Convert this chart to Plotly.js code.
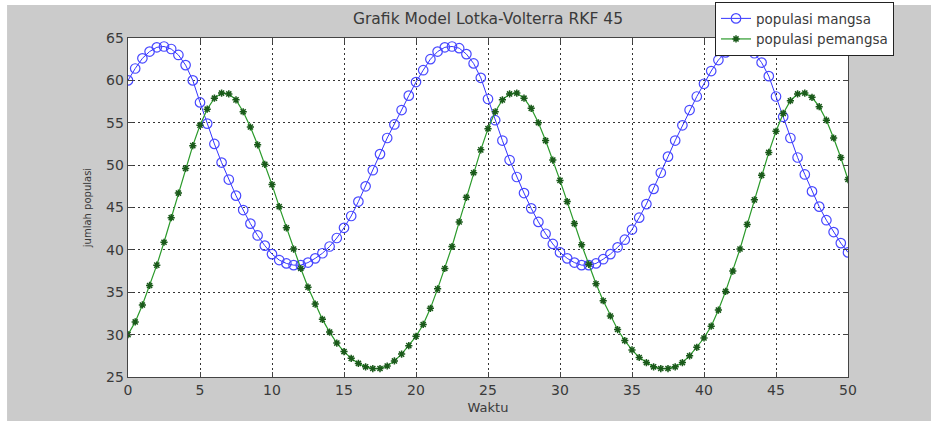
<!DOCTYPE html>
<html>
<head>
<meta charset="utf-8">
<script src="https://cdn.plot.ly/plotly-3.0.1.min.js"></script>
<style>
html,body{margin:0;padding:0;background:#ffffff;}
#chart{width:931px;height:421px;}
</style>
</head>
<body>
<div id="chart"></div>
<script>
// sample times (step 0.5 from 0 to 50)
const waktu = [];
for (let i = 0; i <= 100; i++) waktu.push(i * 0.5);

// prey population (populasi mangsa)
const mangsa = [
  60.0, 61.4, 62.6, 63.4, 63.9, 64.0, 63.7, 63.0, 61.8, 60.0,
  57.4, 54.9, 52.5, 50.3, 48.3, 46.4, 44.7, 43.1, 41.7, 40.5,
  39.5, 38.8, 38.4, 38.2, 38.2, 38.5, 39.0, 39.6, 40.4, 41.4,
  42.6, 44.0, 45.7, 47.5, 49.4, 51.3, 53.2, 54.8, 56.5, 58.2,
  59.8, 61.2, 62.5, 63.4, 63.9, 64.0, 63.8, 63.1, 62.0, 60.3,
  57.8, 55.3, 52.9, 50.6, 48.6, 46.7, 44.9, 43.3, 41.9, 40.7,
  39.7, 39.0, 38.5, 38.2, 38.2, 38.4, 38.9, 39.5, 40.3, 41.2,
  42.4, 43.8, 45.4, 47.2, 49.1, 51.0, 52.9, 54.7, 56.5, 58.1,
  59.6, 61.1, 62.4, 63.3, 63.8, 64.0, 63.8, 63.2, 62.1, 60.5,
  58.1, 55.7, 53.2, 50.9, 48.9, 46.9, 45.1, 43.5, 42.1, 40.8,
  39.7
];

// predator population (populasi pemangsa)
const pemangsa = [
  30.0, 31.5, 33.5, 35.8, 38.2, 40.9, 43.8, 46.7, 49.6, 52.3,
  54.7, 56.6, 57.9, 58.5, 58.4, 57.7, 56.3, 54.5, 52.4, 50.1,
  47.7, 45.1, 42.6, 40.1, 37.8, 35.6, 33.6, 31.8, 30.3, 29.0,
  28.0, 27.2, 26.6, 26.2, 26.0, 26.0, 26.3, 26.9, 27.7, 28.7,
  29.8, 31.2, 33.1, 35.4, 37.8, 40.4, 43.3, 46.2, 49.1, 51.8,
  54.3, 56.3, 57.7, 58.4, 58.5, 57.9, 56.7, 55.0, 52.9, 50.6,
  48.2, 45.7, 43.1, 40.6, 38.3, 36.0, 34.0, 32.2, 30.6, 29.3,
  28.2, 27.3, 26.7, 26.2, 26.0, 26.0, 26.2, 26.7, 27.5, 28.5,
  29.6, 31.0, 32.9, 35.1, 37.5, 40.1, 43.0, 45.9, 48.8, 51.5,
  54.0, 56.1, 57.6, 58.4, 58.5, 58.0, 56.9, 55.3, 53.2, 50.9,
  48.3
];

const seriesNames = ['populasi mangsa', 'populasi pemangsa'];
const xTicks = [0, 5, 10, 15, 20, 25, 30, 35, 40, 45, 50];
const yTicks = [25, 30, 35, 40, 45, 50, 55, 60, 65];

const font = 'DejaVu Sans, Liberation Sans, Arial, sans-serif';

const traces = [
  {
    x: waktu, y: mangsa, name: seriesNames[0],
    type: 'scatter', mode: 'lines+markers',
    line: {color: '#3434ff', width: 1},
    marker: {symbol: 'circle-open', size: 9.5, color: '#4848ff', line: {width: 1.2, color: '#4848ff'}}
  },
  {
    x: waktu, y: pemangsa, name: seriesNames[1],
    type: 'scatter', mode: 'lines+markers',
    line: {color: '#2a9a2a', width: 1.2},
    marker: {symbol: 'asterisk-open', size: 6, color: '#1a5a1a', line: {width: 1.5, color: '#1a5a1a'}}
  }
];

const axisCommon = {
  showgrid: true, gridcolor: '#333333', gridwidth: 1, griddash: '2px,3px',
  zeroline: false, showline: true, linecolor: '#444444', linewidth: 1.3,
  mirror: 'ticks', ticks: 'inside', ticklen: 5, tickcolor: '#444444',
  tickfont: {family: font, size: 14, color: '#3a3a3a'}
};

const layout = {
  width: 931, height: 421,
  margin: {l: 128, r: 83, t: 38, b: 44, pad: 0, autoexpand: false},
  paper_bgcolor: '#cbcbcb', plot_bgcolor: '#ffffff',
  showlegend: true,
  title: {text: 'Grafik Model Lotka-Volterra RKF 45', font: {family: font, size: 15.5, color: '#3a3a3a'},
          x: 0.5, xref: 'paper', y: 1.053, yref: 'paper', yanchor: 'middle'},
  xaxis: Object.assign({}, axisCommon, {
    range: [0, 50], tickvals: xTicks, ticktext: xTicks.map(String),
    title: {text: 'Waktu', font: {family: font, size: 13, color: '#3a3a3a'}, standoff: 5}
  }),
  yaxis: Object.assign({}, axisCommon, {
    range: [25, 65], tickvals: yTicks, ticktext: yTicks.map(String),
    title: {text: 'jumlah populasi', font: {family: font, size: 10, color: '#3a3a3a'}, standoff: 12}
  }),
  legend: {
    xref: 'container', yref: 'container',
    x: 0.768, y: 0.995, xanchor: 'left', yanchor: 'top',
    bgcolor: '#ffffff', bordercolor: '#222222', borderwidth: 1,
    font: {family: font, size: 13.5, color: '#3a3a3a'},
    tracegroupgap: 0, itemwidth: 30
  },
  shapes: [
    {type: 'rect', xref: 'paper', yref: 'paper', x0: -0.2, x1: -0.168, y0: -0.2, y1: 1.2,
     fillcolor: '#ffffff', line: {width: 0}, layer: 'below'},
    {type: 'rect', xref: 'paper', yref: 'paper', x0: -0.2, x1: 1.2, y0: 1.097, y1: 1.2,
     fillcolor: '#ffffff', line: {width: 0}, layer: 'below'}
  ]
};

Plotly.newPlot('chart', traces, layout, {displayModeBar: false, staticPlot: true});
</script>
</body>
</html>
